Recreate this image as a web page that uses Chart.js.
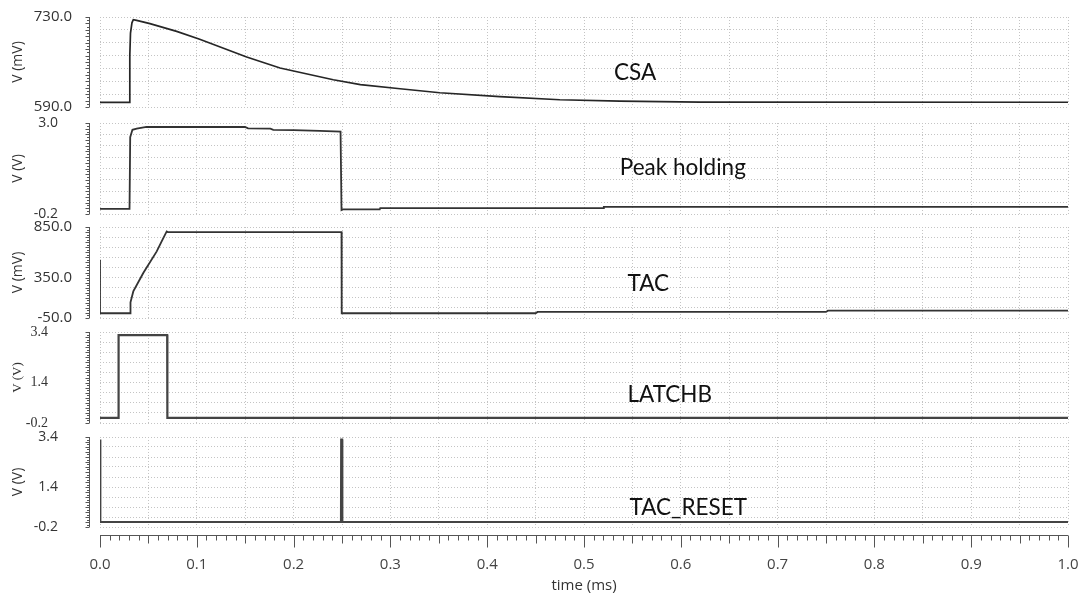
<!DOCTYPE html>
<html>
<head>
<meta charset="utf-8">
<title>CSA / Peak holding / TAC timing</title>
<script src="https://cdn.jsdelivr.net/npm/chart.js@4.4.1/dist/chart.umd.min.js"></script>
<style>
  body { margin: 0; background: #fff; }
  #wrap { position: relative; width: 1083px; height: 597px; overflow: hidden; }
  #wrap canvas { position: absolute; left: 0; }
</style>
</head>
<body>
<div id="wrap">
  <canvas id="csa" width="1083" height="114" style="top:5px"></canvas>
  <canvas id="peak" width="1083" height="115" style="top:111px"></canvas>
  <canvas id="tac" width="1083" height="115" style="top:215px"></canvas>
  <canvas id="latch" width="1083" height="115" style="top:320px"></canvas>
  <canvas id="reset" width="1083" height="172" style="top:425px"></canvas>
</div>
<script>
// ---- waveform data, time in ms ----
const csaTime = [0, 0.0303, 0.0308, 0.0315, 0.0330, 0.0344, 0.0379, 0.0516, 0.0792, 0.103, 0.1515, 0.186, 0.241, 0.269, 0.31, 0.351, 0.413, 0.475, 0.537, 0.62, 1.0];
const csaMv = [597.2, 597.2, 670, 705, 721, 725.8, 724.7, 719.6, 707.6, 695.5, 667.8, 650.6, 632.4, 624.7, 618.4, 612.2, 606, 601.3, 599, 597.7, 597.4];

const peakTime = [0, 0.0305, 0.0312, 0.0335, 0.0379, 0.048, 0.1498, 0.153, 0.176, 0.179, 0.2, 0.227, 0.2485, 0.2495, 0.2505, 0.289, 0.2895, 0.52, 0.5205, 1.0];
const peakV = [-0.02, -0.02, 2.5, 2.76, 2.80, 2.86, 2.86, 2.81, 2.80, 2.76, 2.75, 2.72, 2.70, -0.06, -0.04, -0.04, 0.01, 0.01, 0.05, 0.05];

const tacTime = [0, 0, 0.031, 0.0315, 0.0344, 0.0447, 0.0586, 0.0637, 0.0689, 0.0700, 0.2495, 0.2497, 0.45, 0.452, 0.75, 0.752, 1.0];
const tacMv = [527, -3, -3, 105, 213, 395, 609, 707, 806, 800, 800, -3, -3, 10, 10, 22, 22];

const latchTime = [0, 0.019, 0.0192, 0.0694, 0.0696, 1.0];
const latchV = [0, 0, 3.28, 3.28, 0, 0];

const resetTime = [0, 0.0004, 0.2489, 0.2491, 0.2502, 0.2504, 1.0];
const resetV = [3.3, 0, 0, 3.3, 3.3, 0, 0];

// ---- axis ticks ----
const timeGrid = [0, 0.05, 0.1, 0.15, 0.2, 0.25, 0.3, 0.35, 0.4, 0.45, 0.5, 0.55, 0.6, 0.65, 0.7, 0.75, 0.8, 0.85, 0.9, 0.95, 1.0];
const timeLabels = [0, 0.1, 0.2, 0.3, 0.4, 0.5, 0.6, 0.7, 0.8, 0.9, 1.0];

const csaGrid = [590, 610, 630, 650, 670, 690, 710, 730];
const csaLabels = [590, 730];
const peakGrid = [-0.2, 0.2, 0.6, 1.0, 1.4, 1.8, 2.2, 2.6, 3.0];
const peakLabels = [-0.2, 3.0];
const tacGrid = [-50, 50, 150, 250, 350, 450, 550, 650, 750, 850];
const tacLabels = [-50, 350, 850];
const latchGrid = [-0.2, 0.2, 0.6, 1.0, 1.4, 1.8, 2.2, 2.6, 3.0, 3.4];
const latchLabels = [-0.2, 1.4, 3.4];
const resetGrid = [-0.2, 0.2, 0.6, 1.0, 1.4, 1.8, 2.2, 2.6, 3.0, 3.4];
const resetLabels = [-0.2, 1.4, 3.4];

Chart.defaults.font.family = "'Open Sans', sans-serif";
Chart.defaults.color = '#333';

const hasValue = (list, v) => list.some(l => Math.abs(l - v) < 1e-6);

// ruler ticks beside the y axis, the time ruler under the last panel, and the signal name
const panelDecor = {
    id: 'panelDecor',
    afterDraw(chart, args, opts) {
        const ctx = chart.ctx;
        const xs = chart.scales.x;
        const ys = chart.scales.y;
        const area = chart.chartArea;
        ctx.save();
        ctx.strokeStyle = '#555';
        ctx.lineWidth = 1;
        ctx.beginPath();
        const rx = 89.5;
        ctx.moveTo(rx, area.top);
        ctx.lineTo(rx, area.bottom);
        const g = opts.grid;
        for (let i = 0; i < g.length; i++) {
            for (let k = 0; k < 4; k++) {
                if (i === g.length - 1 && k > 0) break;
                const v = i < g.length - 1 ? g[i] + (g[i + 1] - g[i]) * k / 4 : g[i];
                const py = Math.round(ys.getPixelForValue(v)) + 0.5;
                const len = k % 2 === 0 ? 4 : 2.5;
                ctx.moveTo(rx - len, py);
                ctx.lineTo(rx, py);
            }
        }
        ctx.stroke();

        if (opts.timeRuler) {
            const base = Math.round(area.bottom) + 8.5;
            ctx.beginPath();
            ctx.moveTo(xs.left, base);
            ctx.lineTo(xs.right, base);
            for (let i = 0; i <= 100; i++) {
                const px = Math.round(xs.getPixelForValue(i / 100)) + 0.5;
                const len = i % 10 === 0 ? 12 : (i % 5 === 0 ? 8 : 5);
                ctx.moveTo(px, base);
                ctx.lineTo(px, base + len);
            }
            ctx.stroke();
        }

        ctx.font = "22.5px Lato";
        ctx.fillStyle = '#111';
        ctx.textBaseline = 'middle';
        ctx.fillText(opts.name, xs.getPixelForValue(opts.nameAt[0]), ys.getPixelForValue(opts.nameAt[1]));
        ctx.restore();
    }
};

function panel(id, cfg) {
    const tickFont = { family: cfg.family, size: cfg.tickSize };
    return new Chart(document.getElementById(id), {
        type: 'line',
        data: {
            datasets: [{
                data: cfg.time.map((t, i) => ({ x: t, y: cfg.values[i] })),
                borderColor: cfg.color,
                borderWidth: cfg.width,
                pointRadius: 0,
                tension: 0,
                fill: false
            }]
        },
        options: {
            responsive: false,
            animation: false,
            events: [],
            layout: { padding: { left: 0, right: 15, top: 12, bottom: cfg.showTime ? 0 : 12 } },
            plugins: {
                legend: { display: false },
                tooltip: { enabled: false },
                panelDecor: { grid: cfg.grid, name: cfg.name, nameAt: cfg.nameAt, timeRuler: cfg.showTime }
            },
            scales: {
                x: {
                    type: 'linear',
                    min: 0,
                    max: 1,
                    afterBuildTicks: s => { s.ticks = timeGrid.map(v => ({ value: v })); },
                    afterFit: s => { s.height = cfg.showTime ? 70 : 0; },
                    // tick marks are invisible, they only push the labels down
                    grid: { color: '#c4c4c4', drawTicks: cfg.showTime, tickLength: 29, tickColor: 'rgba(0,0,0,0)' },
                    border: { display: false, dash: [1, 2] },
                    ticks: {
                        display: cfg.showTime,
                        autoSkip: false,
                        maxRotation: 0,
                        padding: 0,
                        font: { size: 15 },
                        color: '#444',
                        callback: v => hasValue(timeLabels, v) ? v.toFixed(1) : ''
                    },
                    title: {
                        display: cfg.showTime,
                        text: 'time (ms)',
                        font: { size: 15 },
                        color: '#333',
                        padding: { top: 0, bottom: 2 }
                    }
                },
                y: {
                    min: cfg.grid[0],
                    max: cfg.grid[cfg.grid.length - 1],
                    afterBuildTicks: s => { s.ticks = cfg.grid.map(v => ({ value: v })); },
                    afterFit: s => { s.width = 100; },
                    grid: { color: '#c4c4c4', drawTicks: true, tickLength: cfg.tickPad, tickColor: 'rgba(0,0,0,0)' },
                    border: { display: false, dash: [1, 2] },
                    ticks: {
                        autoSkip: false,
                        padding: 0,
                        font: tickFont,
                        color: '#333',
                        callback: v => hasValue(cfg.labels, v) ? v.toFixed(1) : ''
                    },
                    title: {
                        display: true,
                        text: cfg.unit,
                        font: { family: cfg.family, size: cfg.titleSize },
                        color: '#333',
                        padding: { top: 10, bottom: 0 }
                    }
                }
            }
        },
        plugins: [panelDecor]
    });
}

panel('csa', {
    time: csaTime, values: csaMv, grid: csaGrid, labels: csaLabels,
    unit: 'V (mV)', name: 'CSA', nameAt: [0.531, 643],
    color: '#262626', width: 1.7, tickPad: 28, tickSize: 15, titleSize: 14,
    family: "'Open Sans', sans-serif", showTime: false
});
panel('peak', {
    time: peakTime, values: peakV, grid: peakGrid, labels: peakLabels,
    unit: 'V (V)', name: 'Peak holding', nameAt: [0.537, 1.42],
    color: '#333', width: 1.8, tickPad: 42, tickSize: 14, titleSize: 14,
    family: "'Open Sans', sans-serif", showTime: false
});
panel('tac', {
    time: tacTime, values: tacMv, grid: tacGrid, labels: tacLabels,
    unit: 'V (mV)', name: 'TAC', nameAt: [0.545, 290],
    color: '#333', width: 1.8, tickPad: 28, tickSize: 15, titleSize: 14,
    family: "'Open Sans', sans-serif", showTime: false
});
panel('latch', {
    time: latchTime, values: latchV, grid: latchGrid, labels: latchLabels,
    unit: 'V (V)', name: 'LATCHB', nameAt: [0.545, 0.91],
    color: '#444', width: 2.2, tickPad: 52, tickSize: 14, titleSize: 13,
    family: "'Liberation Serif', serif", showTime: false
});
panel('reset', {
    time: resetTime, values: resetV, grid: resetGrid, labels: resetLabels,
    unit: 'V (V)', name: 'TAC_RESET', nameAt: [0.547, 0.56],
    color: '#444', width: 2, tickPad: 42, tickSize: 14, titleSize: 14,
    family: "'Open Sans', sans-serif", showTime: true
});
</script>
</body>
</html>
